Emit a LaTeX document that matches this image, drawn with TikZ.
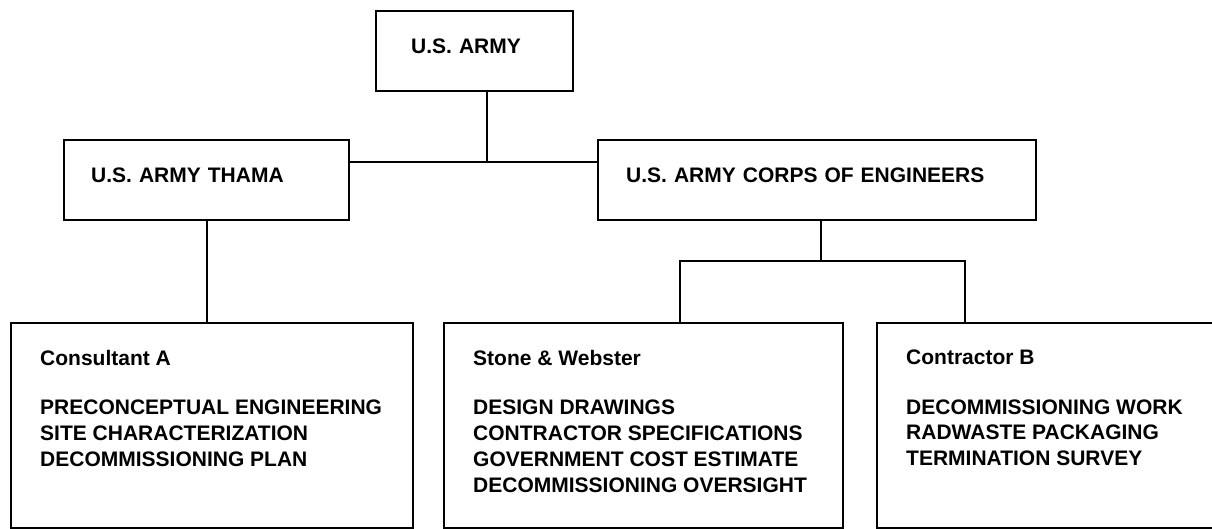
\documentclass[tikz,border=0pt]{standalone}
\usepackage{fontspec}
\setmainfont{Liberation Sans}
\usetikzlibrary{positioning}
\newcommand{\boxlines}[3]{\parbox[c][#1][t]{#2}{\vspace*{27pt}\raggedright\leftskip=29pt #3}}
\begin{document}
\begin{tikzpicture}[x=1pt, y=-1pt, font=\fontsize{21}{25.8}\selectfont\bfseries,
  topbox/.style={draw, line width=2.4pt, anchor=north west, minimum height=80pt, align=left, inner ysep=0pt, text depth=10pt},
  botbox/.style={draw, line width=2.4pt, anchor=north west, inner sep=0pt},
  link/.style={line width=2.4pt}]
  \useasboundingbox (0,0) rectangle (1212,528);
  \node[topbox, text width=127pt, inner xsep=35pt] (army) at (375,10) {U.S. ARMY};
  \node[topbox, text width=231pt, inner xsep=27pt] (thama) at (63,139) {U.S. ARMY THAMA};
  \node[topbox, text width=382pt, inner xsep=28pt] (corps) at (597,139) {U.S. ARMY CORPS OF ENGINEERS};
  \node[botbox] (consA) at (10,322) {\boxlines{205pt}{402pt}{Consultant A\\[23.5pt]
    PRECONCEPTUAL ENGINEERING\\ SITE CHARACTERIZATION\\ DECOMMISSIONING PLAN}};
  \node[botbox] (stone) at (443,322) {\boxlines{205pt}{399pt}{Stone \& Webster\\[23.5pt]
    DESIGN DRAWINGS\\ CONTRACTOR SPECIFICATIONS\\ GOVERNMENT COST ESTIMATE\\ DECOMMISSIONING OVERSIGHT}};
  \node[botbox] (contrB) at (876,322) {\boxlines{205pt}{360pt}{Contractor B\\[23.5pt]
    DECOMMISSIONING WORK\\ RADWASTE PACKAGING\\ TERMINATION SURVEY}};
  \coordinate (hub) at (487,162);
  \coordinate (split) at (821,261);
  \coordinate (dropS) at (680,261);
  \coordinate (dropC) at (965,261);
  \draw[link] (army.south -| hub) -- (hub);
  \draw[link] (thama.east |- hub) -- (corps.west |- hub);
  \draw[link] (thama.south) -- (thama.south |- consA.north);
  \draw[link] (corps.south -| split) -- (split);
  \draw[link] (stone.north -| dropS) -- (dropS) -- (dropC) -- (contrB.north -| dropC);
\end{tikzpicture}
\end{document}
